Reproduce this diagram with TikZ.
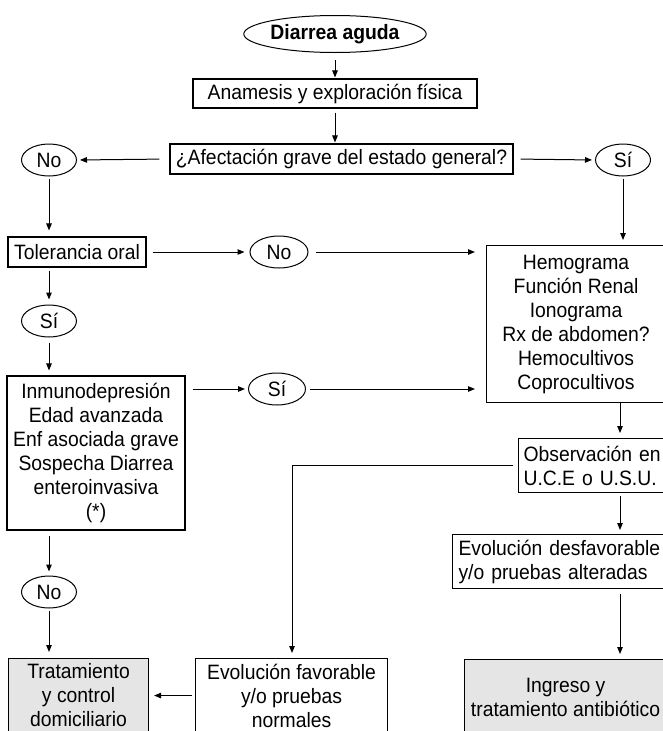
\documentclass[tikz,border=0pt]{standalone}
\usepackage{fontspec}
\setmainfont[FakeStretch=0.93]{Liberation Sans}
\usetikzlibrary{shapes.geometric,arrows.meta}
\begin{document}
\begin{tikzpicture}[x=1pt,y=-1pt,
  every node/.style={font=\fontsize{20.8}{24}\selectfont, inner sep=0pt},
  box/.style={draw, line width=1.1pt, rectangle, align=center},
  oval/.style={draw, line width=1pt, ellipse, minimum width=55pt, minimum height=32pt},
  final/.style={box, fill=black!10},
  arr/.style={-{Triangle[length=7pt,width=5.5pt]}, line width=1pt}]
\useasboundingbox (0,0) rectangle (663,731);
\clip (0,0) rectangle (663,731);

% column guides for the vertical connectors
\coordinate (lc) at (49,0);
\coordinate (mc) at (292,0);
\coordinate (rc) at (620,0);

% top of the chart
\node[oval, minimum width=165pt, minimum height=37pt, font=\fontsize{20.8}{24}\selectfont\bfseries] (start) at (335,34) {Diarrea aguda};
\node[box, minimum width=284pt, minimum height=29pt] (anam) at (335,93.5) {Anamesis y exploración física};
\node[box, minimum width=343pt, minimum height=30pt] (afec) at (341.5,159) {¿Afectación grave del estado general?};
\node[oval] (no1) at (49,160) {No};
\node[oval] (si1) at (623,160) {Sí};

% left branch
\node[box, minimum width=138pt, minimum height=30pt] (tol) at (77,252) {Tolerancia oral};
\node[oval, minimum width=58pt] (no2) at (279,252) {No};
\node[oval] (si3) at (49,321) {Sí};
\node[box, minimum width=178pt, minimum height=154pt] (inmu) at (96,453)
  {Inmunodepresión\\Edad avanzada\\Enf asociada grave\\Sospecha Diarrea\\enteroinvasiva\\(*)};
\node[oval, minimum width=57pt] (si2) at (277,389) {Sí};
\node[oval] (no3) at (49,592) {No};
\node[final, anchor=north west, minimum width=140pt, minimum height=74pt] (trat) at (8,658)
  {Tratamiento\\y control\\domiciliario};

% right branch
\node[box, anchor=north west, minimum width=179pt, minimum height=157pt] (hemo) at (486,245)
  {Hemograma\\Función Renal\\Ionograma\\Rx de abdomen?\\Hemocultivos\\Coprocultivos};
\node[box, anchor=north west, align=left, text width=142pt, inner xsep=5pt, minimum height=54pt] (obs) at (518,438)
  {Observación en\\U.C.E o U.S.U.};
\node[box, anchor=north west, align=left, text width=210pt, inner xsep=6pt, minimum height=54pt] (desf) at (452,534)
  {Evolución desfavorable\\y/o pruebas alteradas};
\node[final, anchor=north west, minimum width=202pt, minimum height=76pt] (ingr) at (464,659)
  {Ingreso y\\tratamiento antibiótico};
\node[box, anchor=north west, minimum width=192pt, minimum height=74pt] (fav) at (195,658)
  {Evolución favorable\\y/o pruebas\\normales};

% connectors
\draw[arr, shorten <=7pt, shorten >=1pt] (start) -- (anam);
\draw[arr, shorten <=4pt, shorten >=1pt] (anam.south) -- (anam.south |- afec.north);
\draw[arr, shorten <=10pt, shorten >=3pt] (afec.west) -- (no1.east);
\draw[arr, shorten <=7pt, shorten >=3pt] (afec.east) -- (si1.west);
\draw[arr, shorten <=2pt, shorten >=6pt] (no1.south) -- (tol.north -| lc);
\draw[arr, shorten <=6pt, shorten >=5pt] (tol.east) -- (no2.west);
\draw[arr, shorten <=7pt, shorten >=11pt] (no2.east) -- (hemo.west |- no2.east);
\draw[arr, shorten <=2pt, shorten >=5pt] (si1.south) -- (hemo.north -| si1.south);
\draw[arr, shorten <=3pt, shorten >=5pt] (tol.south -| lc) -- (si3.north);
\draw[arr, shorten <=5pt, shorten >=5pt] (si3.south) -- (inmu.north -| lc);
\draw[arr, shorten <=7pt, shorten >=3pt] (inmu.east |- si2.west) -- (si2.west);
\draw[arr, shorten <=4pt, shorten >=11pt] (si2.east) -- (hemo.west |- si2.east);
\draw[arr, shorten >=5pt] (hemo.south -| rc) -- (obs.north -| rc);
\draw[arr, shorten <=3pt, shorten >=4pt] (obs.south -| rc) -- (desf.north -| rc);
\draw[arr, shorten <=5pt, shorten >=5pt] (desf.south -| rc) -- (ingr.north -| rc);
\draw[arr, shorten >=5pt] ([xshift=-5pt]obs.west) -| (fav.north -| mc);
\draw[arr, shorten <=3pt, shorten >=5pt] (fav.west) -- (trat.east);
\draw[arr, shorten <=5pt, shorten >=4pt] (inmu.south -| lc) -- (no3.north);
\draw[arr, shorten <=2pt, shorten >=6pt] (no3.south) -- (trat.north -| lc);
\end{tikzpicture}
\end{document}
